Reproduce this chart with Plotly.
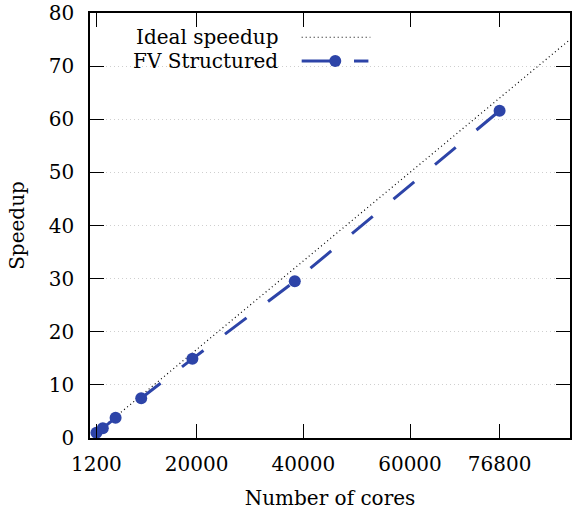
import plotly.graph_objects as go

cores = [1200, 2400, 4800, 9600, 19200, 38400, 76800]
speedup_fv = [1.0, 1.85, 3.8, 7.5, 14.9, 29.5, 61.6]
ideal_cores = [1200, 90000]
ideal_speedup = [1.0, 75.0]
x_ticks = [1200, 20000, 40000, 60000, 76800]
y_ticks = [0, 10, 20, 30, 40, 50, 60, 70, 80]
legend_labels = ["Ideal speedup", "FV Structured"]

BLUE = "#2d44a8"
FONT = "DejaVu Serif"

fig = go.Figure()
fig.add_trace(go.Scatter(x=ideal_cores, y=ideal_speedup, mode="lines",
                         line=dict(color="black", width=1.2, dash="1px,3px"),
                         showlegend=False, name=legend_labels[0]))
fig.add_trace(go.Scatter(x=cores, y=speedup_fv, mode="lines+markers",
                         line=dict(color=BLUE, width=3, dash="27px,27px"),
                         marker=dict(color=BLUE, size=12),
                         showlegend=False, name=legend_labels[1]))

# hand-drawn legend (text right, sample to the right)
ROW1, ROW2 = 0.943, 0.887
fig.add_shape(type="rect", xref="paper", yref="paper", x0=0.003, x1=0.6, y0=0.855, y1=0.995,
              fillcolor="white", line_width=0, layer="between")
for lbl, yy in zip(legend_labels, [ROW1, ROW2]):
    fig.add_annotation(xref="paper", yref="paper", x=0.395, y=yy, text=lbl,
                       showarrow=False, xanchor="right", yanchor="middle",
                       font=dict(family=FONT, size=20, color="black"))
fig.add_shape(type="line", xref="paper", yref="paper", x0=0.441, x1=0.584, y0=ROW1, y1=ROW1,
              line=dict(color="black", width=1.2, dash="1px,3px"))
fig.add_shape(type="line", xref="paper", yref="paper", x0=0.441, x1=0.511, y0=ROW2, y1=ROW2,
              line=dict(color=BLUE, width=3))
fig.add_shape(type="line", xref="paper", yref="paper", x0=0.55, x1=0.58, y0=ROW2, y1=ROW2,
              line=dict(color=BLUE, width=3))
fig.add_shape(type="circle", xref="paper", yref="paper", xsizemode="pixel", ysizemode="pixel",
              xanchor=0.511, yanchor=ROW2, x0=-6, x1=6, y0=-6, y1=6,
              fillcolor=BLUE, line=dict(color=BLUE, width=0))

axis_common = dict(showline=True, linecolor="black", linewidth=1.5, mirror="allticks",
                   ticks="inside", ticklen=14, tickwidth=1.3, tickcolor="black",
                   tickfont=dict(family=FONT, size=20, color="black"), zeroline=False)

fig.update_xaxes(range=[0, 90000], tickvals=x_ticks, ticktext=[str(v) for v in x_ticks],
                 showgrid=False, ticklabelstandoff=7,
                 title=dict(text="Number of cores", font=dict(family=FONT, size=20, color="black"),
                            standoff=16),
                 **axis_common)
fig.update_yaxes(range=[0, 80], tickvals=y_ticks, showgrid=True, gridcolor="#cfcfcf",
                 griddash="1px,3px", gridwidth=1, ticklabelstandoff=10,
                 title=dict(text="Speedup", font=dict(family=FONT, size=20, color="black"),
                            standoff=19),
                 **axis_common)

fig.update_layout(width=573, height=516, margin=dict(l=90, r=1, t=13, b=78),
                  plot_bgcolor="white", paper_bgcolor="white")

fig.write_html("out.html")
